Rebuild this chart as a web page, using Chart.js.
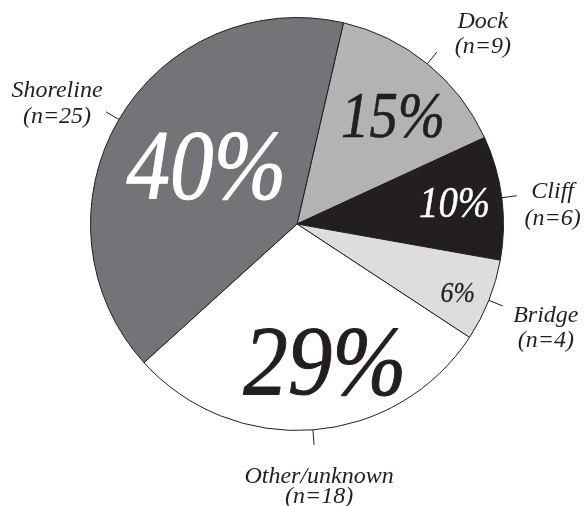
<!DOCTYPE html>
<html>
<head>
<meta charset="utf-8">
<script src="https://cdn.jsdelivr.net/npm/chart.js@4"></script>
<style>
  html, body { margin: 0; padding: 0; background: #ffffff; }
  #wrap { width: 586px; height: 506px; }
</style>
</head>
<body>
<div id="wrap"><canvas id="myChart" width="586" height="506"></canvas></div>
<script>
// data, clockwise from the top
const categories = ['Dock', 'Cliff', 'Bridge', 'Other/unknown', 'Shoreline'];
const counts = [9, 6, 4, 18, 25];
const sliceColors = ['#b2b3b5', '#231f20', '#dcddde', '#ffffff', '#737478'];
const pctColors = ['#231f20', '#ffffff', '#231f20', '#231f20', '#ffffff'];

// where the percent text sits: fraction of radius, angle shift (deg), font size, x squeeze
const pctPlace = [
  {r: 0.70, da: 2.5, size: 66, sx: 0.86},
  {r: 0.77, da: -0.5, size: 45, sx: 0.86},
  {r: 0.845, da: 1.2, size: 30, sx: 0.86},
  {r: 0.68, da: -7, size: 99, sx: 0.9},
  {r: 0.52, da: 2, size: 99, sx: 0.88}
];
// outside label offsets from the end of the leader line
const namePlace = [
  {dx: 46, dy: -24, gap: 25},
  {dx: 36, dy: 2, gap: 27},
  {dx: 43, dy: 16, gap: 25},
  {dx: 5, dy: 38, gap: 20},
  {dx: -49, dy: -15, gap: 26}
];

const FONT = '"Liberation Serif", "Times New Roman", Times, serif';
const total = counts.reduce((a, b) => a + b, 0);

const labelPlugin = {
  id: 'pieLabels',
  afterDraw(chart) {
    const ctx = chart.ctx;
    const arcs = chart.getDatasetMeta(0).data;
    ctx.save();
    arcs.forEach((arc, i) => {
      const p = arc.getProps(['x', 'y', 'startAngle', 'endAngle', 'outerRadius'], true);
      const mid = (p.startAngle + p.endAngle) / 2;
      const R = p.outerRadius;

      // leader line
      const x1 = p.x + Math.cos(mid) * R, y1 = p.y + Math.sin(mid) * R;
      const x2 = p.x + Math.cos(mid) * (R + 15), y2 = p.y + Math.sin(mid) * (R + 15);
      ctx.strokeStyle = '#231f20';
      ctx.lineWidth = 1;
      ctx.beginPath();
      ctx.moveTo(x1, y1);
      ctx.lineTo(x2, y2);
      ctx.stroke();

      // name and n
      const np = namePlace[i];
      ctx.fillStyle = '#231f20';
      ctx.textAlign = 'center';
      ctx.textBaseline = 'alphabetic';
      ctx.font = 'italic 24px ' + FONT;
      ctx.fillText(categories[i], x2 + np.dx, y2 + np.dy);
      ctx.fillText('(n=' + counts[i] + ')', x2 + np.dx, y2 + np.dy + np.gap);

      // percent
      const pp = pctPlace[i];
      const a = mid + pp.da * Math.PI / 180;
      const tx = p.x + Math.cos(a) * R * pp.r;
      const ty = p.y + Math.sin(a) * R * pp.r + pp.size * 0.06;
      const pct = Math.round(counts[i] / total * 100) + '%';
      ctx.save();
      ctx.translate(tx, ty);
      ctx.scale(pp.sx, 1);
      ctx.fillStyle = pctColors[i];
      ctx.strokeStyle = pctColors[i];
      ctx.lineWidth = pp.size / 100;
      ctx.lineJoin = 'round';
      ctx.textBaseline = 'middle';
      ctx.font = 'italic ' + pp.size + 'px ' + FONT;
      ctx.fillText(pct, 0, 0);
      ctx.strokeText(pct, 0, 0);
      ctx.restore();
    });
    ctx.restore();
  }
};

const config = {
  type: 'pie',
  data: {
    labels: categories,
    datasets: [{
      data: counts,
      backgroundColor: sliceColors,
      borderColor: '#231f20',
      borderWidth: 1
    }]
  },
  options: {
    responsive: false,
    animation: false,
    rotation: 13,
    layout: {
      padding: {left: 90, right: 82, top: 17, bottom: 75}
    },
    plugins: {
      legend: {display: false},
      tooltip: {enabled: false}
    }
  },
  plugins: [labelPlugin]
};

new Chart(document.getElementById('myChart').getContext('2d'), config);
</script>
</body>
</html>
